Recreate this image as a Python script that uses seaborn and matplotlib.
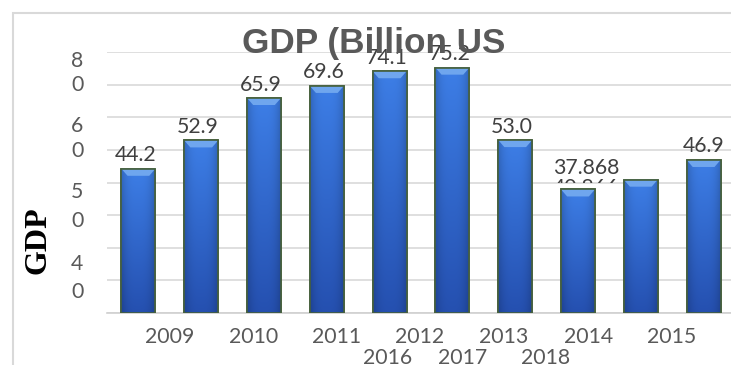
import numpy as np
import pandas as pd
import matplotlib
matplotlib.use("Agg")
import matplotlib.pyplot as plt
import seaborn as sns
from matplotlib.patches import Rectangle, Polygon
from matplotlib import transforms as mtransforms

# ---------------- data ----------------
years = ["2009", "2010", "2011", "2012", "2013", "2014", "2015", "2016", "2017", "2018"]
gdp = [44.2, 52.9, 65.9, 69.6, 74.1, 75.2, 53.0, 37.868, 40.866, 46.9]
value_labels = ["44.2", "52.9", "65.9", "69.6", "74.1", "75.2", "53.0", "37.868", "40.866", "46.9"]
ytick_chars = ["8", "0", "6", "0", "5", "0", "4", "0"]
title_text = "GDP (Billion US"
ylabel_text = "GDP"

# ---------------- layout ----------------
ytick_char_pos = [77.9, 70.5, 57.9, 50.3, 37.7, 28.8, 15.6, 7.0]
xlabel_row1_pos = [0.494, 1.832, 3.154, 4.476, 5.814, 7.168, 8.490]
xlabel_row2_pos = [3.966, 5.161, 6.483]
label_shift_px = [(-3, 0)] * 7 + [(8, 7.5), (-55, -21.5), (0, 0)]

sns.set_style("white")
plt.rcParams["font.family"] = ["Lato", "DejaVu Sans"]

W, H, DPI = 731, 365, 100
fig = plt.figure(figsize=(W / DPI, H / DPI), dpi=DPI)
ax = fig.add_axes([107 / W, 52 / H, (735 - 107) / W, 261 / H])

df = pd.DataFrame({"year": years, "gdp": gdp})
sns.barplot(data=df, x="year", y="gdp", color="#2F63CC", width=0.54,
            edgecolor="#46603C", linewidth=1.2, ax=ax, zorder=3)

ax.set_xlim(-0.5, 9.5)
ax.set_ylim(0, 80)
ax.set_yticks(np.arange(0, 81, 10))
ax.set_yticklabels([])
ax.set_yticks(ytick_char_pos, minor=True)
ax.set_yticklabels(ytick_chars, minor=True)
ax.tick_params(axis="y", which="both", length=0)
ax.tick_params(axis="y", which="minor", pad=17, labelsize=15.3, labelcolor="#595959")
ax.grid(axis="y", which="major", color="#D9D9D9", linewidth=1.2)
ax.set_axisbelow(True)
ax.set_xticks([])
ax.set_xlabel("")
ax.set_ylabel("")
for s in ["left", "right", "top"]:
    ax.spines[s].set_visible(False)
ax.spines["bottom"].set_color("#D0D0D0")
ax.spines["bottom"].set_linewidth(1.2)

# gradient + bevel on bars
top_c = np.array([0x3D, 0x7E, 0xE6]) / 255
bot_c = np.array([0x25, 0x50, 0xB0]) / 255
ny, nx = 64, 32
tv = np.linspace(0, 1, ny)[:, None, None]
col = top_c * (1 - tv) + bot_c * tv
hx = np.linspace(-1, 1, nx)[None, :, None]
shade = 1 - 0.18 * np.abs(hx) ** 3
grad = np.clip(col * shade, 0, 1)

px_per_unit = 261 / 80
for p in ax.patches:
    x0, y0 = p.get_x(), p.get_y()
    w, h = p.get_width(), p.get_height()
    im = ax.imshow(grad, extent=[x0, x0 + w, y0, y0 + h], aspect="auto",
                   zorder=3.5, interpolation="bilinear")
    im.set_clip_path(p)
    bev = 7 / px_per_unit
    poly = Polygon([[x0, y0 + h], [x0 + w, y0 + h], [x0 + w * 0.82, y0 + h - bev],
                    [x0 + w * 0.18, y0 + h - bev]], closed=True,
                   facecolor="#6FA6EE", edgecolor="none", zorder=3.6)
    ax.add_patch(poly)
    edge = Rectangle((x0, y0), w, h, facecolor="none", edgecolor="#46603C",
                     linewidth=1.2, zorder=3.8)
    ax.add_patch(edge)

ax.set_xlim(-0.5, 9.5)
ax.set_ylim(0, 80)

# value labels
for i, (p, txt) in enumerate(zip(ax.patches[:len(gdp)], value_labels)):
    cx = p.get_x() + p.get_width() / 2
    dx, dy = label_shift_px[i]
    t = ax.annotate(txt, xy=(cx, gdp[i]), xytext=(dx * 0.72, (13.5 + dy) * 0.72),
                    textcoords="offset points", ha="center", va="center",
                    fontsize=15.3, color="#404040", zorder=5,
                    annotation_clip=False)
    if txt == "40.866":
        clip = Rectangle((-0.5, 39.9), 10, 60, transform=ax.transData)
        t.set_clip_path(clip)
        t.set_clip_on(True)

# x labels (two rows)
trans = mtransforms.blended_transform_factory(ax.transData, ax.transAxes)
for pos, lab in zip(xlabel_row1_pos, years[:7]):
    ax.text(pos, -0.092, lab, transform=trans, ha="center", va="center",
            fontsize=15.3, color="#595959", clip_on=False)
for pos, lab in zip(xlabel_row2_pos, years[7:]):
    ax.text(pos, -0.172, lab, transform=trans, ha="center", va="center",
            fontsize=15.3, color="#595959", clip_on=False)

# title
fig.text(374 / W, 1 - 53 / H, title_text, ha="center", va="baseline",
         fontsize=25.3, fontweight="bold", color="#595959",
         family=["Liberation Sans", "DejaVu Sans"], zorder=6)

# y axis title
fig.text(38 / W, 1 - 240 / H, ylabel_text, rotation=90, ha="center", va="center",
         fontsize=23, fontweight="bold", color="#000000",
         family=["Liberation Serif", "DejaVu Serif"])

# outer frame
frame = Rectangle((13 / W, -0.2), 1.2, 1 - 13 / H + 0.2, transform=fig.transFigure,
                  facecolor="none", edgecolor="#D9D9D9", linewidth=1.5)
fig.add_artist(frame)

fig.savefig("out.png", dpi=DPI)
